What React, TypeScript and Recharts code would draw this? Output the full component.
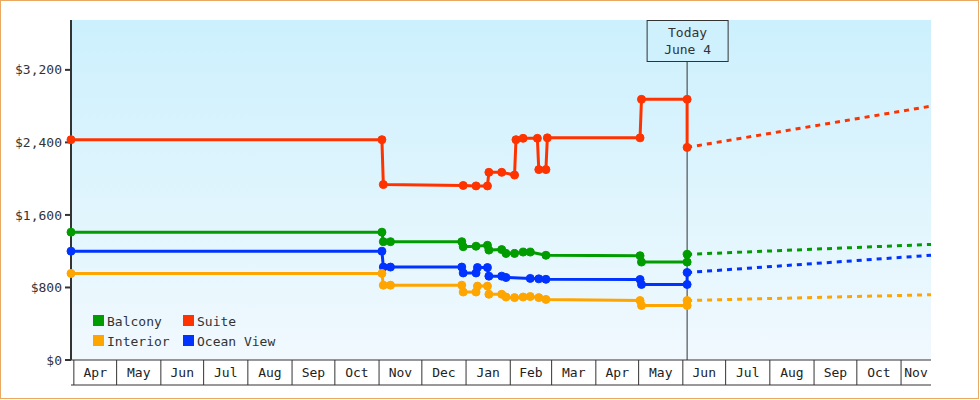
import { LineChart, Line, XAxis, YAxis, CartesianGrid, ReferenceLine } from 'recharts';

const FONT = '"DejaVu Sans Mono", "Liberation Mono", monospace';

const COLORS = {
  balcony: '#009c00',
  suite: '#ff3300',
  interior: '#ffa500',
  ocean: '#0033ff',
};

// price history (old price and new price on consecutive days at each change)
const suiteDates = ['2023-03-30', '2023-11-03', '2023-11-04', '2023-12-30', '2024-01-08', '2024-01-16', '2024-01-17', '2024-01-26', '2024-02-04', '2024-02-05', '2024-02-10', '2024-02-20', '2024-02-21', '2024-02-26', '2024-02-27', '2024-05-02', '2024-05-03', '2024-06-04', '2024-06-04'];
const suitePrices = [2430, 2430, 1935, 1925, 1920, 1920, 2070, 2070, 2040, 2430, 2445, 2445, 2100, 2100, 2450, 2450, 2875, 2875, 2345];

const balconyDates = ['2023-03-30', '2023-11-03', '2023-11-04', '2023-11-09', '2023-12-29', '2023-12-30', '2024-01-08', '2024-01-16', '2024-01-17', '2024-01-26', '2024-01-29', '2024-02-04', '2024-02-10', '2024-02-15', '2024-02-26', '2024-05-02', '2024-05-03', '2024-06-04', '2024-06-04'];
const balconyPrices = [1410, 1410, 1305, 1305, 1305, 1250, 1255, 1265, 1212, 1218, 1175, 1175, 1190, 1190, 1155, 1150, 1080, 1080, 1165];

const oceanDates = ['2023-03-30', '2023-11-03', '2023-11-04', '2023-11-09', '2023-12-29', '2023-12-30', '2024-01-08', '2024-01-09', '2024-01-16', '2024-01-17', '2024-01-26', '2024-01-29', '2024-02-15', '2024-02-21', '2024-02-26', '2024-05-02', '2024-05-03', '2024-06-04', '2024-06-04'];
const oceanPrices = [1200, 1200, 1025, 1025, 1025, 960, 960, 1020, 1020, 925, 925, 910, 900, 895, 890, 888, 833, 833, 965];

const interiorDates = ['2023-03-30', '2023-11-03', '2023-11-04', '2023-11-09', '2023-12-29', '2023-12-30', '2024-01-08', '2024-01-09', '2024-01-16', '2024-01-17', '2024-01-26', '2024-01-29', '2024-02-04', '2024-02-10', '2024-02-15', '2024-02-21', '2024-02-26', '2024-05-02', '2024-05-03', '2024-06-04', '2024-06-04'];
const interiorPrices = [955, 955, 825, 825, 825, 750, 750, 815, 815, 725, 725, 695, 688, 695, 700, 688, 668, 656, 601, 601, 656];

// projected prices after today
const forecastDates = ['2024-06-04', '2024-11-22'];
const suiteForecast = [2345, 2800];
const balconyForecast = [1165, 1275];
const oceanForecast = [965, 1155];
const interiorForecast = [656, 720];

const monthStarts = ['2023-04-01', '2023-05-01', '2023-06-01', '2023-07-01', '2023-08-01', '2023-09-01', '2023-10-01', '2023-11-01', '2023-12-01', '2024-01-01', '2024-02-01', '2024-03-01', '2024-04-01', '2024-05-01', '2024-06-01', '2024-07-01', '2024-08-01', '2024-09-01', '2024-10-01', '2024-11-01'];
const monthLabels = ['Apr', 'May', 'Jun', 'Jul', 'Aug', 'Sep', 'Oct', 'Nov', 'Dec', 'Jan', 'Feb', 'Mar', 'Apr', 'May', 'Jun', 'Jul', 'Aug', 'Sep', 'Oct', 'Nov'];

const yTicks = [0, 800, 1600, 2400, 3200];

const START = Date.parse('2023-03-30');
const END = Date.parse('2024-11-22');
const TODAY = Date.parse('2024-06-04');

const toPoints = (dates: string[], prices: number[]) =>
  dates.map((d, i) => ({ date: Date.parse(d), price: prices[i] }));

const dividerTicks = monthStarts.map((d) => Date.parse(d));
const labelTicks = dividerTicks.map((t, i) => (t + (dividerTicks[i + 1] ?? END)) / 2);
const labelByTick = new Map(labelTicks.map((t, i) => [t, monthLabels[i]]));

const MonthTick = (props: any) => {
  const { x, y, payload } = props;
  const label = labelByTick.get(payload.value);
  if (label) {
    return (
      <text x={x} y={y + 17} textAnchor="middle" fontFamily={FONT} fontSize={13} fill="#222">
        {label}
      </text>
    );
  }
  return <line x1={x} y1={y} x2={x} y2={y + 25} stroke="#333" strokeWidth={1} />;
};

const TodayLabel = (props: any) => {
  const { x, y } = props.viewBox;
  return (
    <g>
      <rect x={x - 40} y={y + 0.5} width={81} height={41} fill="#cff0fd" stroke="#333" strokeWidth={1} />
      <text x={x + 0.5} y={y + 17} textAnchor="middle" fontFamily={FONT} fontSize={13} fill="#333">Today</text>
      <text x={x + 0.5} y={y + 34} textAnchor="middle" fontFamily={FONT} fontSize={13} fill="#333">June 4</text>
    </g>
  );
};

const legendItems = [
  { name: 'Balcony', color: COLORS.balcony, x: 93, y: 315 },
  { name: 'Suite', color: COLORS.suite, x: 183, y: 315 },
  { name: 'Interior', color: COLORS.interior, x: 93, y: 335 },
  { name: 'Ocean View', color: COLORS.ocean, x: 183, y: 335 },
];

const history = [
  { key: 'suite', color: COLORS.suite, data: toPoints(suiteDates, suitePrices) },
  { key: 'balcony', color: COLORS.balcony, data: toPoints(balconyDates, balconyPrices) },
  { key: 'ocean', color: COLORS.ocean, data: toPoints(oceanDates, oceanPrices) },
  { key: 'interior', color: COLORS.interior, data: toPoints(interiorDates, interiorPrices) },
];

const forecast = [
  { key: 'suite-f', color: COLORS.suite, data: toPoints(forecastDates, suiteForecast) },
  { key: 'balcony-f', color: COLORS.balcony, data: toPoints(forecastDates, balconyForecast) },
  { key: 'ocean-f', color: COLORS.ocean, data: toPoints(forecastDates, oceanForecast) },
  { key: 'interior-f', color: COLORS.interior, data: toPoints(forecastDates, interiorForecast) },
];

export default function App() {
  return (
    <div style={{ position: 'absolute', left: 0, top: 0, width: 980, height: 400, background: '#fff' }}>
      <LineChart width={980} height={400} margin={{ top: 20, right: 49, bottom: 14, left: 0 }}>
        <defs>
          <linearGradient id="plotBg" x1="0" y1="0" x2="0" y2="1">
            <stop offset="0%" stopColor="#ccf0fd" />
            <stop offset="100%" stopColor="#f1f9fe" />
          </linearGradient>
        </defs>
        <CartesianGrid horizontal={false} vertical={false} fill="url(#plotBg)" />
        <XAxis
          dataKey="date"
          type="number"
          domain={[START, END]}
          ticks={[...dividerTicks, ...labelTicks].sort((a, b) => a - b)}
          interval={0}
          height={25}
          tickSize={0}
          tickMargin={0}
          tickLine={false}
          axisLine={{ stroke: '#333', strokeWidth: 1 }}
          tick={(p: any) => <MonthTick {...p} />}
          allowDuplicatedCategory={false}
        />
        <XAxis
          xAxisId="base"
          dataKey="date"
          type="number"
          domain={[START, END]}
          height={1}
          tick={false}
          tickLine={false}
          axisLine={{ stroke: '#333', strokeWidth: 1 }}
        />
        <YAxis
          type="number"
          domain={[0, 3750]}
          ticks={yTicks}
          width={71}
          tickSize={6}
          tickMargin={3}
          axisLine={{ stroke: '#333', strokeWidth: 2 }}
          tickLine={{ stroke: '#333', strokeWidth: 2 }}
          tick={{ fontFamily: FONT, fontSize: 13, fill: '#333' }}
          tickFormatter={(v: number) => `$${v.toLocaleString('en-US')}`}
        />
        <ReferenceLine x={TODAY} stroke="#333" strokeWidth={1} label={(p: any) => <TodayLabel {...p} />} />
        {forecast.map((s) => (
          <Line
            key={s.key}
            data={s.data}
            dataKey="price"
            type="linear"
            stroke={s.color}
            strokeWidth={3}
            strokeDasharray="5 5"
            dot={false}
            activeDot={false}
            isAnimationActive={false}
          />
        ))}
        {history.map((s) => (
          <Line
            key={s.key}
            data={s.data}
            dataKey="price"
            type="linear"
            stroke={s.color}
            strokeWidth={3}
            dot={{ r: 4, fill: s.color, stroke: s.color, strokeWidth: 1 }}
            activeDot={false}
            isAnimationActive={false}
          />
        ))}
      </LineChart>
      <svg width={980} height={400} style={{ position: 'absolute', left: 0, top: 0, pointerEvents: 'none' }}>
        {legendItems.map((it) => (
          <g key={it.name}>
            <rect x={it.x} y={it.y} width={11} height={11} fill={it.color} />
            <text x={it.x + 14} y={it.y + 10.5} fontFamily={FONT} fontSize={13} fill="#333">{it.name}</text>
          </g>
        ))}
      </svg>
      <div
        style={{
          position: 'absolute', left: 0, top: 0, width: 979, height: 399,
          boxSizing: 'border-box', border: '1px solid #e9a962', pointerEvents: 'none',
        }}
      />
    </div>
  );
}
